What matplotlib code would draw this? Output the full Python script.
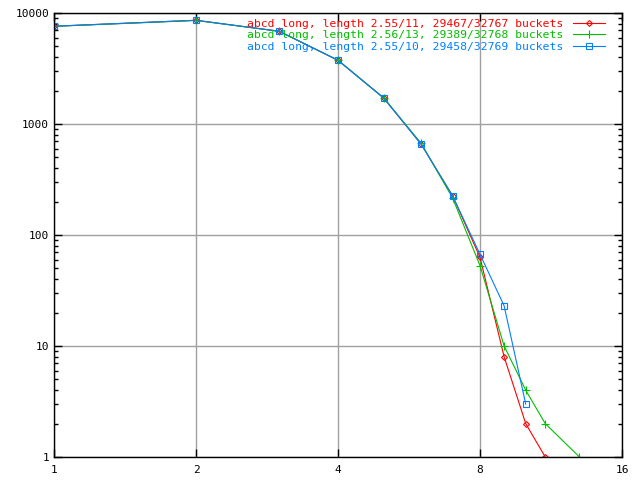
import matplotlib
matplotlib.use("Agg")
import matplotlib.pyplot as plt
from matplotlib.ticker import FixedLocator, FixedFormatter, LogLocator, NullFormatter

# chain length (x) and number of buckets with that length (y)
x_red = [1, 2, 3, 4, 5, 6, 7, 8, 9, 10, 11]
y_red = [7600, 8600, 6850, 3750, 1715, 660, 225, 63, 8, 2, 1]

x_green = [1, 2, 3, 4, 5, 6, 7, 8, 9, 10, 11, 13]
y_green = [7580, 8560, 6850, 3760, 1720, 670, 215, 53, 10, 4, 2, 1]

x_blue = [1, 2, 3, 4, 5, 6, 7, 8, 9, 10]
y_blue = [7600, 8600, 6850, 3750, 1710, 660, 225, 67, 23, 3]

labels = ["abcd long, length 2.55/11, 29467/32767 buckets",
          "abcd long, length 2.56/13, 29389/32768 buckets",
          "abcd long, length 2.55/10, 29458/32769 buckets"]

xticks = [1, 2, 4, 8, 16]
yticks = [1, 10, 100, 1000, 10000]

plt.rcParams["font.family"] = "DejaVu Sans Mono"

fig = plt.figure(figsize=(6.4, 4.8), dpi=100)
ax = fig.add_axes([54 / 640, 1 - 457 / 480, 568 / 640, 444 / 480])

red = "#ff0000"
green = "#00c000"
blue = "#0080ff"

ax.plot(x_red, y_red, color=red, lw=0.8, marker="D", ms=3, mfc="none", mew=0.8, label=labels[0])
ax.plot(x_green, y_green, color=green, lw=0.8, marker="+", ms=6, mew=0.8, label=labels[1])
ax.plot(x_blue, y_blue, color=blue, lw=0.8, marker="s", ms=4.5, mfc="none", mew=0.8, label=labels[2])

ax.set_xscale("log", base=2)
ax.set_yscale("log")
ax.set_xlim(1, 16)
ax.set_ylim(1, 10000)

ax.xaxis.set_major_locator(FixedLocator(xticks))
ax.xaxis.set_major_formatter(FixedFormatter([str(t) for t in xticks]))
ax.xaxis.set_minor_locator(FixedLocator([]))
ax.yaxis.set_major_locator(FixedLocator(yticks))
ax.yaxis.set_major_formatter(FixedFormatter([str(t) for t in yticks]))
ax.yaxis.set_minor_locator(LogLocator(base=10, subs=range(2, 10)))
ax.yaxis.set_minor_formatter(NullFormatter())

ax.grid(True, which="major", color="#a0a0a0", lw=1)
ax.tick_params(which="both", direction="in", top=True, right=True, labelsize=8, width=1, color="black")
ax.tick_params(which="major", length=6)
ax.tick_params(which="minor", length=3)
ax.tick_params(axis="x", pad=6)
for s in ax.spines.values():
    s.set_linewidth(1)

leg = ax.legend(loc="upper right", bbox_to_anchor=(1 - 10 / 568, 1 + 1 / 444),
                frameon=False, markerfirst=False, fontsize=8.2,
                handlelength=2.8, handletextpad=0.9, labelspacing=0.12,
                borderaxespad=0.3, borderpad=0.3)
for text, c in zip(leg.get_texts(), [red, green, blue]):
    text.set_color(c)

fig.savefig("out.png", dpi=100)
